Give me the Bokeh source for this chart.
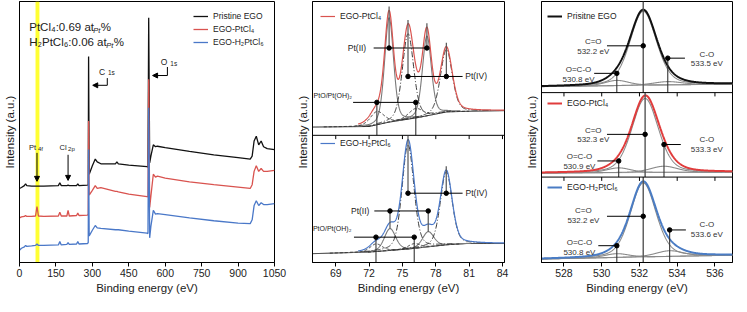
import numpy as np
from bokeh.plotting import figure
from bokeh.layouts import row
from bokeh.models import (Range1d, Span, Label, Arrow, NormalHead, FixedTicker,
                          Legend, LegendItem)
from bokeh.embed import file_html
from bokeh.resources import INLINE

FONT = "Liberation Sans"

# ---------------- panel a : survey spectra ----------------
survey_ev = [0, 8, 20, 25, 30, 50, 66, 72, 78, 100, 160, 166, 172, 195, 200, 205,
             235, 240, 245, 280, 283, 284.5, 287, 300, 312, 320, 335, 395, 401, 407,
             450, 525, 529, 532, 536, 541, 551, 560, 568, 600, 700, 800, 900, 950,
             958, 966, 975, 985, 995, 1005, 1020, 1050]
survey_pristine = [78, 79, 81, 83, 81, 80.5, 80.5, 80.5, 80.5, 80.5, 81, 84, 81, 81, 81.5, 81,
                   81, 83, 81, 81.5, 82, 217, 93, 102, 109, 106, 104, 104, 106, 104,
                   102.5, 101, 100.5, 258, 105, 112, 124, 122, 122.5, 121, 117, 113.5, 110.5, 109,
                   112, 128, 133, 124, 128, 122, 120, 119]
survey_ptcl4 = [47, 48, 48.5, 49.5, 48.5, 48.5, 49, 59, 49, 48.5, 49, 53, 49, 49, 55, 49,
                49.5, 52, 49.5, 50, 51, 149, 71, 76, 81, 78, 79, 75, 75, 74.5,
                72, 69.5, 69, 193, 58, 70, 93, 90, 91, 89, 85, 82, 79.5, 78,
                82, 96, 102, 96, 99, 96, 96, 97]
survey_h2ptcl6 = [13, 15, 16.5, 18, 17, 17.5, 18, 19.5, 18, 18, 18.5, 22, 18.5, 19, 21, 19,
                  19.5, 22, 19.5, 20, 21, 119, 28, 34, 39, 36.5, 36, 34.5, 34.5, 34.5,
                  33, 31, 30.5, 163, 26, 38, 55, 51, 51.5, 50.5, 47, 44, 41.5, 41,
                  45, 60, 65, 60, 63, 61, 61, 62]
survey_names = ["Pristine EGO", "EGO-PtCl\u2084", "EGO-H\u2082PtCl\u2086"]
survey_ticks = [0, 150, 300, 450, 600, 750, 900, 1050]
pt4f_band = [66, 82]
pt4f_ev = 72
cl2p_ev = 200
c1s_ev = 284.5
o1s_ev = 532

# ---------------- panel b : Pt 4f ----------------
pt_ticks = [69, 72, 75, 78, 81, 84]
pt_kinds = ["Pt(II)", "Pt(II)", "Pt(IV)", "Pt(IV)", "PtO", "PtO"]
ptcl4_pos = [73.8, 77.2, 75.5, 78.95, 72.7, 76.2]
ptcl4_height = [110, 84, 90, 66, 14, 10]
ptcl4_fwhm = [0.95, 0.95, 1.2, 1.25, 1.5, 1.5]
ptcl4_bg_ev = [66.9, 72.0, 73.7, 76.4, 79.0, 80.8, 84.2]
ptcl4_bg = [142.7, 143.3, 147.7, 152.7, 158.7, 159.3, 160.0]
h2ptcl6_pos = [73.88, 77.32, 75.5, 78.94, 72.62, 76.06]
h2ptcl6_height = [23, 16, 110, 77, 8, 5]
h2ptcl6_fwhm = [1.2, 1.2, 1.25, 1.25, 1.3, 1.3]
h2ptcl6_bg_ev = [66.9, 72.0, 75.6, 79.0, 80.8, 84.2]
h2ptcl6_bg = [9.3, 11.0, 14.3, 18.7, 20.0, 20.0]

# ---------------- panel c : O 1s ----------------
o1s_ticks = [528, 530, 532, 534, 536]
o1s_names = ["Prisitne EGO", "EGO-PtCl\u2084", "EGO-H\u2082PtCl\u2086"]
o1s_pos = [[530.8, 532.2, 533.5], [530.9, 532.3, 533.3], [530.8, 532.2, 533.6]]
o1s_height = [[5.5, 78, 3.5], [5, 78, 6.5], [4, 78, 6]]
o1s_fwhm = [[1.5, 1.65, 1.8], [1.5, 1.65, 1.7], [1.5, 1.6, 1.7]]
o1s_base_left = [185.3, 94.3, 3.7]
o1s_base_right = [188.0, 95.3, 7.7]

BLACK = "#111111"
RED = "#d9534f"
BLUE = "#4a78c8"
GREY = "#8a8a8a"
TXT = "#222222"


def pv(x, c, h, w, eta=0.3):
    t = (x - c) / w
    return h * ((1 - eta) * np.exp(-4 * np.log(2) * t ** 2) + eta / (1 + 4 * t ** 2))


def base_fig(xr, fw, bl, br, ticks):
    p = figure(x_range=Range1d(*xr), y_range=Range1d(0, 275),
               frame_width=fw, frame_height=261,
               min_border_left=bl, min_border_right=br, min_border_top=1, min_border_bottom=34,
               output_backend="svg", toolbar_location=None)
    p.xgrid.visible = False
    p.ygrid.visible = False
    p.outline_line_color = "black"
    p.outline_line_alpha = 1
    p.background_fill_color = "white"
    p.border_fill_color = "white"
    xa = p.xaxis[0]
    xa.ticker = FixedTicker(ticks=ticks, minor_ticks=[])
    xa.major_tick_in = 0
    xa.major_tick_out = 4
    xa.minor_tick_in = 0
    xa.minor_tick_out = 0
    xa.major_label_standoff = 2
    xa.axis_label = "Binding energy (eV)"
    xa.axis_label_standoff = 2
    xa.major_label_text_font = FONT
    xa.major_label_text_font_size = "10.5px"
    xa.major_label_text_color = TXT
    xa.axis_label_text_font = FONT
    xa.axis_label_text_font_size = "11.5px"
    xa.axis_label_text_font_style = "normal"
    xa.axis_label_text_color = TXT
    xa.axis_line_color = "black"
    xa.major_tick_line_color = "black"
    ya = p.yaxis[0]
    ya.ticker = FixedTicker(ticks=[], minor_ticks=[])
    ya.axis_label = "Intensity (a.u.)"
    ya.major_tick_in = 0
    ya.major_tick_out = 0
    ya.minor_tick_in = 0
    ya.minor_tick_out = 0
    ya.major_label_standoff = 0
    ya.axis_label_standoff = 4
    ya.axis_label_text_font = FONT
    ya.axis_label_text_font_size = "11.5px"
    ya.axis_label_text_font_style = "normal"
    ya.axis_label_text_color = TXT
    ya.axis_line_color = "black"
    return p


def txt(p, x, y, s, size="8.5px", align="left", color=TXT, style="normal",
        xo=0, yo=0):
    p.add_layout(Label(x=x, y=y, text=s, text_font=FONT, text_font_size=size,
                       text_align=align, text_baseline="middle", text_color=color,
                       text_font_style=style, x_offset=xo, y_offset=yo))


def legend(p, items, x, y, size="8.5px"):
    lg = Legend(items=items, location=(x, y), orientation="vertical",
                label_text_font=FONT, label_text_font_size=size, label_text_color=TXT,
                glyph_width=15, glyph_height=12, label_height=12, label_standoff=5,
                spacing=1, padding=0, margin=0, border_line_color=None,
                background_fill_alpha=0)
    p.add_layout(lg)


# ======================= panel a =======================
pa = base_fig((0, 1050), 255, 17, 19, survey_ticks)
pa.quad(left=[pt4f_band[0]], right=[pt4f_band[1]], bottom=[0], top=[275],
        fill_color="#ffff33", line_color=None)
ra = []
for ys, col in zip([survey_pristine, survey_ptcl4, survey_h2ptcl6], [BLACK, RED, BLUE]):
    ra.append(pa.line(survey_ev, ys, line_color=col, line_width=1.3))
legend(pa, [LegendItem(label=n, renderers=[r]) for n, r in zip(survey_names, ra)], 174, 214)

txt(pa, 40, 248, "PtCl\u2084:0.69 at", size="11.5px")
txt(pa, 40, 248, "Pt", size="7.5px", style="italic", xo=64, yo=-3)
txt(pa, 40, 248, "%", size="11.5px", xo=71.5)
txt(pa, 40, 232, "H\u2082PtCl\u2086:0.06 at", size="11.5px")
txt(pa, 40, 232, "Pt", size="7.5px", style="italic", xo=77, yo=-3)
txt(pa, 40, 232, "%", size="11.5px", xo=84.5)

base_at = lambda e: float(np.interp(e, survey_ev, survey_pristine))
pa.add_layout(Arrow(end=NormalHead(size=5, fill_color="black", line_color="black"),
                    x_start=pt4f_ev, y_start=base_at(pt4f_ev) + 35, x_end=pt4f_ev,
                    y_end=base_at(pt4f_ev) + 5, line_width=1))
pa.add_layout(Arrow(end=NormalHead(size=5, fill_color="black", line_color="black"),
                    x_start=cl2p_ev, y_start=base_at(cl2p_ev) + 32, x_end=cl2p_ev,
                    y_end=base_at(cl2p_ev) + 5, line_width=1))
txt(pa, 39, 121, "Pt", size="7.5px")
txt(pa, 39, 121, "4f", size="6px", xo=9, yo=-1)
txt(pa, 165, 121, "Cl", size="7.5px")
txt(pa, 165, 121, "2p", size="6px", xo=8.5, yo=-1)
# C 1s / O 1s bent arrows
pa.line([c1s_ev + 77, c1s_ev + 77], [194.3, 186.7], line_color="black", line_width=1)
pa.add_layout(Arrow(end=NormalHead(size=5, fill_color="black", line_color="black"),
                    x_start=c1s_ev + 77, y_start=186.7, x_end=c1s_ev + 17, y_end=186.7,
                    line_width=1))
txt(pa, 327, 201, "C", size="8.5px")
txt(pa, 327, 201, "1s", size="6.5px", xo=9, yo=-1)
pa.line([o1s_ev + 77, o1s_ev + 77], [206, 197], line_color="black", line_width=1)
pa.add_layout(Arrow(end=NormalHead(size=5, fill_color="black", line_color="black"),
                    x_start=o1s_ev + 77, y_start=197, x_end=o1s_ev + 16, y_end=197,
                    line_width=1))
txt(pa, 582, 211, "O", size="8.5px")
txt(pa, 582, 211, "1s", size="6.5px", xo=9.5, yo=-1)
txt(pa, -68, 268, "a", size="14px", style="bold", color="black")

# ======================= panel b =======================
pb = base_fig((66.91, 84.18), 192, 19, 15, pt_ticks)
pb.add_layout(Span(location=134, dimension="width", line_color="black", line_width=1))
pb.segment(x0=pt_ticks, x1=pt_ticks, y0=[134] * len(pt_ticks), y1=[130] * len(pt_ticks),
           line_color="black", line_width=1)

xb = np.linspace(66.91, 84.18, 700)
comp_style = {"Pt(II)": dict(line_color="#7a7a7a", line_dash="solid", line_width=1.1),
              "Pt(IV)": dict(line_color="#222222", line_dash="6 2 1 2", line_width=0.9),
              "PtO": dict(line_color="#222222", line_dash="3 2", line_width=0.9)}
b_sets = [(ptcl4_pos, ptcl4_height, ptcl4_fwhm, ptcl4_bg_ev, ptcl4_bg, RED, "EGO-PtCl\u2084"),
          (h2ptcl6_pos, h2ptcl6_height, h2ptcl6_fwhm, h2ptcl6_bg_ev, h2ptcl6_bg, BLUE,
           "EGO-H\u2082PtCl\u2086")]
b_env = []
for pos, hh, ww, bge, bgv, col, name in b_sets:
    bg = np.interp(xb, bge, bgv)
    pb.line(xb, bg, line_color="black", line_width=1)
    total = bg.copy()
    for c, h, w, k in zip(pos, hh, ww, pt_kinds):
        comp = pv(xb, c, h, w)
        total += comp
        m = np.abs(xb - c) < 3.2 * w
        pb.line(xb[m], (bg + comp)[m], **comp_style[k])
    m = xb > 71.0
    r = pb.line(xb[m], total[m], line_color=col, line_width=1.2)
    b_env.append((xb, total, r, name))

legend(pb, [LegendItem(label=b_env[0][3], renderers=[b_env[0][2]])], 8, 240)
legend(pb, [LegendItem(label=b_env[1][3], renderers=[b_env[1][2]])], 8, 113)


def env_at(i, e):
    return float(np.interp(e, b_env[i][0], b_env[i][1]))


def bg_at(bge, bgv, e):
    return float(np.interp(e, bge, bgv))


def bracket(p, xs, y, dots):
    p.line(xs, [y, y], line_color="black", line_width=1)
    p.scatter(dots, [y] * len(dots), size=4.5, color="black")


# top (PtCl4)
for e in ptcl4_pos[0:2]:
    pb.line([e, e], [env_at(0, e) + 4, 226], line_color="#555555", line_width=1.2)
bracket(pb, [72.41, ptcl4_pos[1]], 226, ptcl4_pos[0:2])
txt(pb, 71.74, 226, "Pt(II)", align="right")
for e in ptcl4_pos[2:4]:
    pb.line([e, e], [env_at(0, e) + 4, 196], line_color="#555555", line_width=1.2)
bracket(pb, [ptcl4_pos[2], 80.41], 196, ptcl4_pos[2:4])
txt(pb, 80.65, 196, "Pt(IV)")
for e in ptcl4_pos[4:6]:
    pb.line([e, e], [168.7, 134], line_color="#333333", line_width=1.1)
bracket(pb, [70.56, ptcl4_pos[5]], 168.7, ptcl4_pos[4:6])
txt(pb, 70.47, 176, "PtO/Pt(OH)\u2082", size="7px", align="right")

# bottom (H2PtCl6)
for e in h2ptcl6_pos[2:4]:
    pb.line([e, e], [env_at(1, e) + 4, 73], line_color="#555555", line_width=1.2)
bracket(pb, [h2ptcl6_pos[2], 80.41], 73, h2ptcl6_pos[2:4])
txt(pb, 80.68, 73, "Pt(IV)")
for e, h in zip(h2ptcl6_pos[0:2], h2ptcl6_height[0:2]):
    pb.line([e, e], [54.3, bg_at(h2ptcl6_bg_ev, h2ptcl6_bg, e) + h], line_color="#555555",
            line_width=1.2)
bracket(pb, [72.47, h2ptcl6_pos[1]], 54.3, h2ptcl6_pos[0:2])
txt(pb, 72.03, 54.3, "Pt(II)", align="right")
for e in h2ptcl6_pos[4:6]:
    pb.line([e, e], [26.7, 0], line_color="#333333", line_width=1.1)
bracket(pb, [70.64, h2ptcl6_pos[5]], 26.7, h2ptcl6_pos[4:6])
txt(pb, 70.41, 35.3, "PtO/Pt(OH)\u2082", size="7px", align="right")
txt(pb, 65.43, 268, "b", size="14px", style="bold", color="black")

# ======================= panel c =======================
pc = base_fig((526.81, 536.93), 191, 22, 1, o1s_ticks)
for d in [179, 90]:
    pc.add_layout(Span(location=d, dimension="width", line_color="black", line_width=1))
    pc.segment(x0=o1s_ticks, x1=o1s_ticks, y0=[d] * len(o1s_ticks),
               y1=[d - 4] * len(o1s_ticks), line_color="black", line_width=1)

xc = np.linspace(526.81, 536.93, 600)
c_cols = [BLACK, "#e03c3c", "#4a7cc4"]
c_span = [(179, 275), (90, 179), (0, 90)]
c_leg_y = [240, 153, 69]
c_lay = [
    (529.55, (232.7, 222.5), 228.3, 530.28, 528.77, (203.3, 193.3), 199.3, 529.6,
     535.57, (219.3, 209.3), 215.3, 534.41),
    (529.55, (139.3, 129.3), 135.0, 530.28, 528.82, (112.0, 101.3), 107.0, 529.77,
     535.57, (129.3, 119.3), 124.3, 534.19),
    (529.03, (55.0, 44.5), 48.7, 530.28, 528.82, (21.0, 10.7), 17.7, 529.82,
     535.57, (40.0, 30.0), 34.3, 534.46),
]
TC = "#333333"
for i in range(3):
    base = np.interp(xc, [526.81, 536.93], [o1s_base_left[i], o1s_base_right[i]])
    total = base.copy()
    for c, h, w in zip(o1s_pos[i], o1s_height[i], o1s_fwhm[i]):
        comp = pv(xc, c, h, w)
        total += comp
        pc.line(xc, base + comp, line_color=GREY, line_width=1.1)
    pc.line(xc, base, line_color=GREY, line_width=1)
    r = pc.line(xc, total, line_color=c_cols[i], line_width=2)
    legend(pc, [LegendItem(label=o1s_names[i], renderers=[r])], 6, c_leg_y[i])
    lo, hi = c_span[i]
    oco, coc, co = o1s_pos[i]
    (cx, cys, cly, cx0, ox, oys, oly, ox0, kx, kys, kly, kx1) = c_lay[i]
    pc.line([coc, coc], [lo, hi], line_color="#555555", line_width=1.4)
    bracket(pc, [cx0, coc], cly, [coc])
    txt(pc, cx, cys[0], "C=O", size="8px", align="center", color=TC)
    txt(pc, cx, cys[1], f"{coc:.1f} eV", size="8px", align="center", color=TC)
    pc.line([oco, oco], [oly, lo], line_color="#333333", line_width=1.1)
    bracket(pc, [ox0, oco], oly, [oco])
    txt(pc, ox, oys[0], "O=C-O", size="8px", align="center", color=TC)
    txt(pc, ox, oys[1], f"{oco:.1f} eV", size="8px", align="center", color=TC)
    pc.line([co, co], [kly, lo], line_color="#333333", line_width=1.1)
    bracket(pc, [co, kx1], kly, [co])
    txt(pc, kx, kys[0], "C-O", size="8px", align="center", color=TC)
    txt(pc, kx, kys[1], f"{co:.1f} eV", size="8px", align="center", color=TC)
txt(pc, 525.78, 268, "c", size="14px", style="bold", color="black")

layout = row(pa, pb, pc)
open("out.html", "w").write(file_html(layout, INLINE))
